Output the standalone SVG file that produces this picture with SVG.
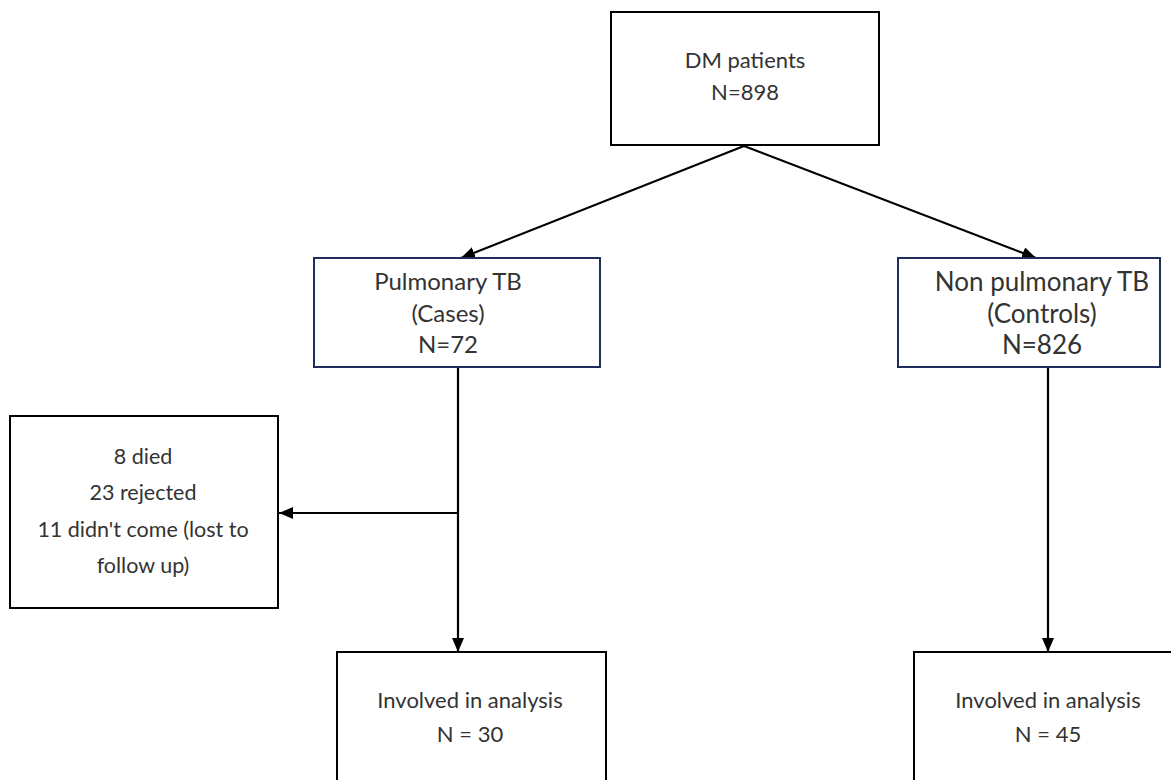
<svg xmlns="http://www.w3.org/2000/svg" width="1171" height="780" viewBox="0 0 1171 780">
<style>
.box{fill:#fff;stroke:#000;stroke-width:2}
.nbox{fill:#fff;stroke:#1f2d5a;stroke-width:2}
.t{font-family:Lato,"Liberation Sans",sans-serif;fill:#333;text-anchor:middle}
.s22{font-size:22px}
.s24{font-size:24px}
.s26{font-size:26px}
.s21{font-size:21.5px}
.c{stroke:#000;stroke-width:2.2;fill:none}
</style>
<defs>
<marker id="ah" markerWidth="14" markerHeight="12" refX="14" refY="6" orient="auto" markerUnits="userSpaceOnUse" viewBox="0 0 14 12">
<path d="M0,0 L14,6 L0,12 z" fill="#000"/>
</marker>
</defs>
<g id="connectors">
<line class="c" x1="744" y1="146" x2="461" y2="258" marker-end="url(#ah)"/>
<line class="c" x1="744" y1="146" x2="1036" y2="258" marker-end="url(#ah)"/>
<line class="c" x1="458" y1="367" x2="458" y2="652" marker-end="url(#ah)"/>
<line class="c" x1="458" y1="513" x2="279" y2="513" marker-end="url(#ah)"/>
<line class="c" x1="1048" y1="367" x2="1048" y2="652" marker-end="url(#ah)"/>
</g>
<g id="dm">
<rect class="box" x="611" y="12" width="268" height="133"/>
<text class="t s22" x="745" y="68">DM patients</text>
<text class="t s22" x="745" y="100">N=898</text>
</g>
<g id="cases">
<rect class="nbox" x="314" y="258" width="286" height="109"/>
<text class="t s24" x="448" y="290">Pulmonary TB</text>
<text class="t s24" x="448" y="322">(Cases)</text>
<text class="t s24" x="448" y="353">N=72</text>
</g>
<g id="controls">
<rect class="nbox" x="898" y="258" width="262" height="109"/>
<text class="t s26" x="1042" y="291">Non pulmonary TB</text>
<text class="t s26" x="1042" y="323">(Controls)</text>
<text class="t s26" x="1042" y="354">N=826</text>
</g>
<g id="excluded">
<rect class="box" x="10" y="416" width="268" height="192"/>
<text class="t s21" x="143" y="464">8 died</text>
<text class="t s21" x="143" y="500">23 rejected</text>
<text class="t s21" x="143" y="537">11 didn't come (lost to</text>
<text class="t s21" x="143" y="573">follow up)</text>
</g>
<g id="analysis1">
<rect class="box" x="337" y="652" width="269" height="140"/>
<text class="t s22" x="470" y="708">Involved in analysis</text>
<text class="t s22" x="470" y="742">N = 30</text>
</g>
<g id="analysis2">
<rect class="box" x="914" y="652" width="269" height="140"/>
<text class="t s22" x="1048" y="708">Involved in analysis</text>
<text class="t s22" x="1048" y="742">N = 45</text>
</g>
</svg>
